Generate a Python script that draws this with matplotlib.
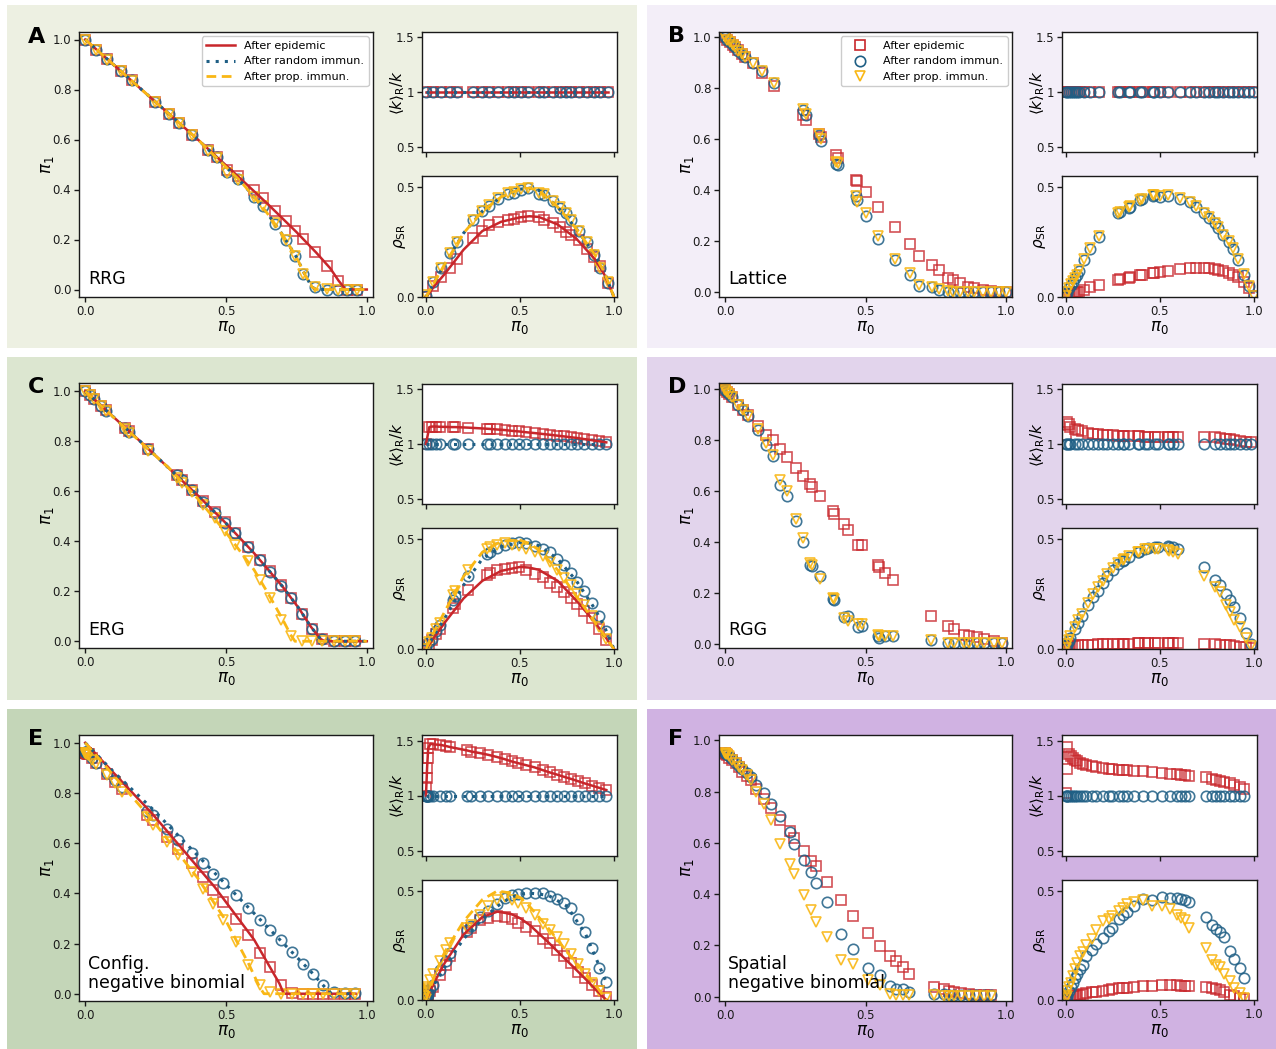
import matplotlib
matplotlib.use('Agg')
import matplotlib.pyplot as plt
from matplotlib.lines import Line2D
from matplotlib.patches import Rectangle

RED = '#c8262b'
BLUE = '#1f5f85'
YEL = '#f9b715'

# ---------------- A: RRG ----------------
a_x = [0.0, 0.039, 0.078, 0.126, 0.165, 0.248, 0.298, 0.333, 0.381, 0.437, 0.467, 0.505,
       0.541, 0.599, 0.63, 0.674, 0.713, 0.745, 0.774, 0.816, 0.857, 0.896, 0.928, 0.966]
a_epi = [1.0, 0.96, 0.921, 0.875, 0.837, 0.751, 0.704, 0.667, 0.619, 0.56, 0.531, 0.477,
         0.453, 0.397, 0.368, 0.315, 0.273, 0.235, 0.201, 0.151, 0.093, 0.033, 0.0, 0.0]
a_rand = [1.0, 0.96, 0.921, 0.875, 0.837, 0.751, 0.704, 0.667, 0.619, 0.558, 0.529, 0.47,
          0.441, 0.371, 0.335, 0.264, 0.197, 0.133, 0.061, 0.011, 0.0, 0.0, 0.0, 0.0]
a_prop = [1.0, 0.958, 0.92, 0.874, 0.836, 0.75, 0.703, 0.665, 0.617, 0.556, 0.528, 0.468,
          0.44, 0.372, 0.336, 0.266, 0.2, 0.135, 0.063, 0.012, 0.002, 0.0, 0.0, 0.0]
a_k_epi = [1.0, 1.0, 1.0, 1.0, 1.0, 1.0, 1.0, 1.0, 1.0, 1.0, 1.0, 1.0,
           1.0, 1.0, 1.0, 1.0, 1.0, 1.0, 1.0, 1.0, 1.0, 1.0, 1.0, 1.0]
a_k_rand = [1.0, 1.0, 1.0, 1.0, 1.0, 1.0, 1.0, 1.0, 1.0, 1.0, 1.0, 1.0,
            1.0, 1.0, 1.0, 1.0, 1.0, 1.0, 1.0, 1.0, 1.0, 1.0, 1.0, 1.0]
a_rho_epi = [0.0, 0.05, 0.092, 0.134, 0.172, 0.27, 0.3, 0.326, 0.342, 0.35, 0.356, 0.364,
             0.368, 0.365, 0.352, 0.336, 0.316, 0.296, 0.28, 0.258, 0.22, 0.18, 0.14, 0.065]
a_rho_rand = [0.005, 0.068, 0.13, 0.2, 0.25, 0.35, 0.39, 0.415, 0.447, 0.47, 0.475, 0.488,
              0.495, 0.47, 0.465, 0.435, 0.405, 0.38, 0.35, 0.3, 0.25, 0.19, 0.13, 0.065]
a_rho_prop = [0.008, 0.07, 0.133, 0.202, 0.252, 0.352, 0.392, 0.418, 0.45, 0.472, 0.478, 0.49,
              0.497, 0.472, 0.466, 0.437, 0.407, 0.382, 0.352, 0.302, 0.252, 0.192, 0.132, 0.066]
a_th_epi_x = [0.0, 0.4, 0.55, 0.65, 0.75, 0.82, 0.87, 0.9, 0.925, 1.0]
a_th_epi_y = [1.0, 0.6, 0.445, 0.34, 0.23, 0.148, 0.085, 0.035, 0.0, 0.0]
a_th_imm_x = [0.0, 0.4, 0.5, 0.55, 0.6, 0.65, 0.7, 0.75, 0.78, 0.805, 0.82, 1.0]
a_th_imm_y = [1.0, 0.6, 0.49, 0.435, 0.37, 0.3, 0.22, 0.13, 0.06, 0.01, 0.0, 0.0]

rho_x = [0.0, 0.05, 0.1, 0.2, 0.3, 0.4, 0.5, 0.55, 0.6, 0.7, 0.8, 0.9, 0.95, 1.0]
a_th_rho_epi = [0.0, 0.055, 0.105, 0.215, 0.3, 0.342, 0.362, 0.367, 0.364, 0.33, 0.265, 0.17, 0.1, 0.0]
a_th_rho_imm = [0.0, 0.075, 0.15, 0.29, 0.39, 0.455, 0.49, 0.495, 0.485, 0.41, 0.31, 0.19, 0.11, 0.0]

# ---------------- B: Lattice ----------------
b_x = [0.0, 0.008, 0.018, 0.027, 0.036, 0.047, 0.059, 0.071, 0.098, 0.13, 0.174, 0.278,
       0.288, 0.334, 0.343, 0.394, 0.402, 0.465, 0.47, 0.501, 0.544, 0.605, 0.659, 0.692,
       0.736, 0.763, 0.793, 0.811, 0.837, 0.867, 0.888, 0.917, 0.947, 0.974, 1.0]
b_epi = [1.0, 0.99, 0.98, 0.971, 0.961, 0.948, 0.935, 0.924, 0.898, 0.859, 0.809, 0.693,
         0.674, 0.619, 0.608, 0.54, 0.527, 0.439, 0.435, 0.393, 0.334, 0.258, 0.189, 0.141,
         0.106, 0.089, 0.057, 0.047, 0.037, 0.023, 0.018, 0.01, 0.005, 0.001, 0.0]
b_rand = [1.0, 0.99, 0.98, 0.97, 0.96, 0.947, 0.934, 0.922, 0.897, 0.866, 0.82, 0.713,
          0.693, 0.615, 0.595, 0.504, 0.5, 0.376, 0.36, 0.298, 0.21, 0.125, 0.069, 0.025,
          0.021, 0.01, 0.003, 0.0, 0.0, 0.0, 0.0, 0.0, 0.0, 0.0, 0.0]
b_prop = [1.0, 0.99, 0.98, 0.97, 0.96, 0.947, 0.934, 0.922, 0.9, 0.868, 0.822, 0.718,
          0.7, 0.62, 0.6, 0.51, 0.505, 0.378, 0.355, 0.31, 0.22, 0.13, 0.075, 0.03,
          0.02, 0.012, 0.004, 0.002, 0.0, 0.0, 0.0, 0.0, 0.0, 0.0, 0.0]
b_k_epi = [1.0, 1.0, 1.0, 1.0, 1.0, 1.0, 1.0, 1.0, 1.0, 1.0, 1.0, 1.0, 1.0, 1.0, 1.0, 1.0, 1.0, 1.0,
           1.0, 1.0, 1.0, 1.0, 1.0, 1.0, 1.0, 1.0, 1.0, 1.0, 1.0, 1.0, 1.0, 1.0, 1.0, 1.0, 1.0]
b_k_rand = [1.0, 1.0, 1.0, 1.0, 1.0, 1.0, 1.0, 1.0, 1.0, 1.0, 1.0, 1.0, 1.0, 1.0, 1.0, 1.0, 1.0, 1.0,
            1.0, 1.0, 1.0, 1.0, 1.0, 1.0, 1.0, 1.0, 1.0, 1.0, 1.0, 1.0, 1.0, 1.0, 1.0, 1.0, 1.0]
b_rho_epi = [0.0, 0.005, 0.008, 0.012, 0.015, 0.018, 0.022, 0.025, 0.032, 0.045, 0.053, 0.078,
             0.08, 0.088, 0.09, 0.098, 0.1, 0.108, 0.11, 0.115, 0.12, 0.128, 0.132, 0.133,
             0.133, 0.132, 0.128, 0.125, 0.118, 0.108, 0.1, 0.092, 0.07, 0.04, 0.005]
b_rho_rand = [0.003, 0.02, 0.04, 0.055, 0.07, 0.085, 0.1, 0.12, 0.17, 0.22, 0.275, 0.38,
              0.385, 0.405, 0.41, 0.44, 0.445, 0.46, 0.462, 0.455, 0.46, 0.447, 0.43, 0.41,
              0.38, 0.36, 0.335, 0.315, 0.28, 0.25, 0.22, 0.17, 0.1, 0.05, 0.003]
b_rho_prop = [0.004, 0.022, 0.042, 0.057, 0.072, 0.087, 0.102, 0.122, 0.172, 0.222, 0.278, 0.383,
              0.388, 0.408, 0.413, 0.443, 0.447, 0.462, 0.464, 0.457, 0.462, 0.449, 0.432, 0.412,
              0.383, 0.362, 0.338, 0.318, 0.283, 0.253, 0.223, 0.173, 0.103, 0.052, 0.004]

# ---------------- C: ERG ----------------
c_x = [0.0, 0.018, 0.03, 0.055, 0.074, 0.142, 0.156, 0.224, 0.325, 0.342, 0.378, 0.419, 0.46,
       0.496, 0.531, 0.579, 0.62, 0.658, 0.697, 0.732, 0.77, 0.805, 0.842, 0.883, 0.921, 0.959]
c_epi = [1.0, 0.987, 0.971, 0.943, 0.924, 0.853, 0.84, 0.769, 0.667, 0.647, 0.607, 0.56, 0.516,
         0.476, 0.433, 0.377, 0.327, 0.28, 0.224, 0.173, 0.111, 0.049, 0.009, 0.003, 0.003, 0.003]
c_rand = [1.0, 0.986, 0.97, 0.942, 0.923, 0.852, 0.839, 0.768, 0.666, 0.646, 0.606, 0.559, 0.515,
          0.475, 0.432, 0.376, 0.326, 0.279, 0.223, 0.172, 0.11, 0.048, 0.008, 0.002, 0.002, 0.002]
c_prop = [1.0, 0.986, 0.97, 0.941, 0.921, 0.849, 0.835, 0.762, 0.655, 0.634, 0.596, 0.547, 0.493,
          0.44, 0.387, 0.32, 0.247, 0.173, 0.087, 0.023, 0.003, 0.003, 0.003, 0.003, 0.003, 0.003]
c_k_epi = [1.0, 1.155, 1.16, 1.16, 1.158, 1.155, 1.155, 1.15, 1.14, 1.138, 1.133, 1.128, 1.12,
           1.115, 1.108, 1.1, 1.092, 1.085, 1.077, 1.07, 1.062, 1.055, 1.045, 1.035, 1.025, 1.015]
c_k_rand = [1.0, 1.0, 1.0, 1.0, 1.0, 1.0, 1.0, 1.0, 1.0, 1.0, 1.0, 1.0, 1.0,
            1.0, 1.0, 1.0, 1.0, 1.0, 1.0, 1.0, 1.0, 1.0, 1.0, 1.0, 1.0, 1.0]
c_rho_epi = [0.0, 0.02, 0.04, 0.07, 0.09, 0.185, 0.205, 0.27, 0.338, 0.345, 0.36, 0.365, 0.37,
             0.372, 0.358, 0.342, 0.326, 0.302, 0.28, 0.258, 0.23, 0.205, 0.175, 0.14, 0.092, 0.04]
c_rho_rand = [0.0, 0.03, 0.045, 0.08, 0.11, 0.225, 0.24, 0.33, 0.43, 0.44, 0.46, 0.472, 0.48,
              0.485, 0.48, 0.47, 0.455, 0.44, 0.41, 0.38, 0.345, 0.305, 0.265, 0.21, 0.15, 0.08]
c_rho_prop = [0.0, 0.03, 0.05, 0.09, 0.12, 0.245, 0.265, 0.36, 0.455, 0.465, 0.475, 0.48, 0.475,
              0.468, 0.455, 0.44, 0.425, 0.395, 0.36, 0.325, 0.29, 0.25, 0.2, 0.15, 0.1, 0.045]
c_th_epi_x = [0.0, 0.2, 0.4, 0.5, 0.6, 0.7, 0.76, 0.8, 0.835, 0.85, 1.0]
c_th_epi_y = [1.0, 0.795, 0.583, 0.472, 0.352, 0.22, 0.13, 0.06, 0.01, 0.0, 0.0]
c_th_prop_x = [0.0, 0.3, 0.4, 0.5, 0.6, 0.65, 0.7, 0.73, 0.745, 1.0]
c_th_prop_y = [1.0, 0.69, 0.57, 0.435, 0.285, 0.19, 0.09, 0.025, 0.0, 0.0]
c_th_rho_epi = [0.0, 0.06, 0.12, 0.23, 0.31, 0.355, 0.373, 0.37, 0.36, 0.31, 0.22, 0.12, 0.06, 0.0]
c_th_rho_rand = [0.0, 0.07, 0.14, 0.29, 0.41, 0.465, 0.485, 0.482, 0.47, 0.41, 0.31, 0.18, 0.1, 0.0]
c_th_rho_prop = [0.0, 0.09, 0.17, 0.33, 0.44, 0.49, 0.495, 0.48, 0.45, 0.36, 0.24, 0.12, 0.06, 0.0]

# ---------------- D: RGG ----------------
d_x = [0.0, 0.006, 0.015, 0.024, 0.047, 0.065, 0.083, 0.118, 0.146, 0.169, 0.195, 0.219,
       0.252, 0.278, 0.304, 0.308, 0.337, 0.385, 0.387, 0.422, 0.438, 0.473, 0.489, 0.544,
       0.548, 0.568, 0.598, 0.734, 0.793, 0.817, 0.852, 0.87, 0.896, 0.923, 0.959, 0.986]
d_epi = [0.993, 0.987, 0.979, 0.969, 0.937, 0.918, 0.898, 0.855, 0.82, 0.797, 0.763, 0.732,
         0.689, 0.656, 0.627, 0.614, 0.58, 0.519, 0.51, 0.471, 0.447, 0.388, 0.386, 0.31,
         0.301, 0.277, 0.248, 0.11, 0.071, 0.058, 0.035, 0.031, 0.026, 0.018, 0.009, 0.003]
d_rand = [0.993, 0.987, 0.979, 0.969, 0.937, 0.918, 0.891, 0.836, 0.78, 0.734, 0.624, 0.578,
          0.48, 0.399, 0.31, 0.304, 0.264, 0.175, 0.172, 0.105, 0.107, 0.065, 0.07, 0.031,
          0.022, 0.029, 0.029, 0.013, 0.003, 0.003, 0.002, 0.002, 0.002, 0.002, 0.002, 0.002]
d_prop = [0.993, 0.986, 0.978, 0.968, 0.936, 0.916, 0.893, 0.84, 0.785, 0.74, 0.64, 0.597,
          0.49, 0.414, 0.316, 0.31, 0.255, 0.178, 0.175, 0.1, 0.09, 0.078, 0.078, 0.035,
          0.03, 0.03, 0.032, 0.015, 0.004, 0.003, 0.002, 0.002, 0.002, 0.002, 0.002, 0.002]
d_k_epi = [1.08, 1.2, 1.18, 1.16, 1.14, 1.125, 1.12, 1.1, 1.095, 1.09, 1.085, 1.08,
           1.08, 1.075, 1.075, 1.075, 1.072, 1.07, 1.07, 1.068, 1.066, 1.065, 1.065, 1.065,
           1.065, 1.065, 1.062, 1.065, 1.06, 1.055, 1.05, 1.045, 1.04, 1.03, 1.02, 1.015]
d_k_rand = [1.0, 1.0, 1.0, 1.0, 1.0, 1.0, 1.0, 1.0, 1.0, 1.0, 1.0, 1.0,
            1.0, 1.0, 1.0, 1.0, 1.0, 1.0, 1.0, 1.0, 1.0, 1.0, 1.0, 1.0,
            1.0, 1.0, 1.0, 1.0, 1.0, 1.0, 1.0, 1.0, 1.0, 1.0, 1.0, 1.0]
d_rho_epi = [0.0, 0.005, 0.01, 0.012, 0.015, 0.017, 0.018, 0.02, 0.02, 0.021, 0.022, 0.023,
             0.024, 0.024, 0.025, 0.025, 0.025, 0.026, 0.026, 0.026, 0.026, 0.027, 0.027, 0.027,
             0.027, 0.027, 0.027, 0.024, 0.022, 0.02, 0.018, 0.016, 0.013, 0.01, 0.007, 0.003]
d_rho_rand = [0.005, 0.02, 0.035, 0.05, 0.09, 0.12, 0.15, 0.2, 0.235, 0.265, 0.3, 0.33,
              0.36, 0.385, 0.4, 0.405, 0.42, 0.44, 0.44, 0.455, 0.46, 0.463, 0.465, 0.467,
              0.465, 0.462, 0.455, 0.371, 0.315, 0.29, 0.25, 0.225, 0.19, 0.14, 0.075, 0.025]
d_rho_prop = [0.005, 0.025, 0.04, 0.06, 0.1, 0.13, 0.16, 0.21, 0.25, 0.28, 0.31, 0.34,
              0.37, 0.39, 0.405, 0.41, 0.425, 0.44, 0.44, 0.455, 0.455, 0.455, 0.455, 0.45,
              0.445, 0.44, 0.43, 0.33, 0.28, 0.26, 0.2, 0.17, 0.13, 0.1, 0.05, 0.015]

# ---------------- E: Config. negative binomial ----------------
e_x = [0.0, 0.002, 0.004, 0.006, 0.009, 0.012, 0.024, 0.039, 0.077, 0.106, 0.13, 0.218, 0.24,
       0.289, 0.331, 0.378, 0.419, 0.455, 0.488, 0.534, 0.579, 0.622, 0.658, 0.697, 0.734,
       0.773, 0.809, 0.844, 0.883, 0.921, 0.959]
e_epi = [0.96, 0.96, 0.958, 0.957, 0.956, 0.955, 0.938, 0.918, 0.875, 0.844, 0.814, 0.711, 0.691,
         0.625, 0.578, 0.519, 0.465, 0.415, 0.366, 0.299, 0.233, 0.162, 0.106, 0.033, 0.004,
         0.0, 0.0, 0.0, 0.0, 0.0, 0.0]
e_rand = [0.964, 0.963, 0.962, 0.961, 0.96, 0.96, 0.941, 0.92, 0.88, 0.851, 0.822, 0.729, 0.712,
          0.655, 0.612, 0.561, 0.519, 0.479, 0.441, 0.392, 0.34, 0.293, 0.253, 0.213, 0.166,
          0.12, 0.078, 0.033, 0.007, 0.003, 0.003]
e_prop = [0.96, 0.958, 0.956, 0.955, 0.953, 0.951, 0.933, 0.915, 0.871, 0.838, 0.805, 0.705, 0.672,
          0.605, 0.552, 0.485, 0.418, 0.359, 0.295, 0.206, 0.113, 0.033, 0.007, 0.0, 0.0,
          0.0, 0.0, 0.0, 0.0, 0.0, 0.0]
e_k_epi = [1.0, 1.08, 1.16, 1.25, 1.34, 1.43, 1.47, 1.465, 1.46, 1.45, 1.44, 1.41, 1.4,
           1.385, 1.37, 1.35, 1.33, 1.31, 1.295, 1.275, 1.255, 1.23, 1.21, 1.19, 1.17,
           1.15, 1.13, 1.11, 1.09, 1.07, 1.05]
e_k_rand = [1.0, 1.0, 1.0, 1.0, 1.0, 1.0, 1.0, 1.0, 1.0, 1.0, 1.0, 1.0, 1.0,
            1.0, 1.0, 1.0, 1.0, 1.0, 1.0, 1.0, 1.0, 1.0, 1.0, 1.0, 1.0,
            1.0, 1.0, 1.0, 1.0, 1.0, 1.0]
e_rho_epi = [0.0, 0.005, 0.01, 0.015, 0.02, 0.022, 0.04, 0.06, 0.115, 0.16, 0.2, 0.31, 0.33,
             0.365, 0.378, 0.385, 0.38, 0.37, 0.355, 0.335, 0.315, 0.28, 0.26, 0.23, 0.2,
             0.17, 0.13, 0.1, 0.07, 0.04, 0.015]
e_rho_rand = [0.005, 0.01, 0.015, 0.02, 0.025, 0.03, 0.05, 0.07, 0.138, 0.18, 0.215, 0.32, 0.338,
              0.382, 0.41, 0.44, 0.468, 0.482, 0.488, 0.49, 0.492, 0.489, 0.478, 0.462, 0.445,
              0.42, 0.372, 0.31, 0.24, 0.145, 0.084]
e_rho_prop = [0.005, 0.02, 0.03, 0.04, 0.05, 0.06, 0.09, 0.12, 0.18, 0.23, 0.26, 0.33, 0.345,
              0.39, 0.43, 0.46, 0.47, 0.46, 0.445, 0.42, 0.39, 0.35, 0.32, 0.29, 0.255,
              0.21, 0.165, 0.12, 0.08, 0.04, 0.01]
e_th_epi_x = [0.0, 0.24, 0.46, 0.6, 0.69, 0.705, 0.96]
e_th_epi_y = [1.0, 0.715, 0.425, 0.215, 0.04, 0.0, 0.0]
e_th_rand_x = [0.0, 0.1, 0.24, 0.4, 0.6, 0.8, 0.86, 0.875, 0.96]
e_th_rand_y = [1.0, 0.885, 0.735, 0.55, 0.32, 0.09, 0.015, 0.0, 0.0]
e_th_prop_x = [0.0, 0.24, 0.4, 0.5, 0.58, 0.62, 0.635, 0.96]
e_th_prop_y = [1.0, 0.69, 0.46, 0.29, 0.12, 0.025, 0.0, 0.0]
e_rho_xs = [0.0, 0.05, 0.1, 0.2, 0.3, 0.38, 0.45, 0.5, 0.55, 0.65, 0.75, 0.85, 0.9, 0.96]
e_th_rho_epi = [0.0, 0.09, 0.17, 0.3, 0.38, 0.405, 0.395, 0.375, 0.345, 0.265, 0.18, 0.095, 0.05, 0.0]
e_th_rho_rand = [0.0, 0.08, 0.15, 0.28, 0.37, 0.43, 0.47, 0.485, 0.49, 0.48, 0.43, 0.3, 0.2, 0.08]
e_th_rho_prop = [0.0, 0.12, 0.22, 0.36, 0.46, 0.5, 0.49, 0.47, 0.43, 0.33, 0.22, 0.12, 0.07, 0.0]

# ---------------- F: Spatial negative binomial ----------------
f_x = [0.0, 0.003, 0.006, 0.014, 0.026, 0.038, 0.05, 0.061, 0.077, 0.091, 0.109, 0.138, 0.162,
       0.197, 0.23, 0.247, 0.282, 0.306, 0.325, 0.362, 0.412, 0.457, 0.51, 0.551, 0.589, 0.61,
       0.632, 0.655, 0.743, 0.778, 0.799, 0.817, 0.841, 0.87, 0.894, 0.923, 0.947]
f_epi = [0.949, 0.946, 0.943, 0.933, 0.923, 0.91, 0.897, 0.877, 0.86, 0.845, 0.812, 0.773, 0.738,
         0.688, 0.646, 0.62, 0.568, 0.531, 0.509, 0.449, 0.377, 0.316, 0.247, 0.196, 0.158, 0.14,
         0.117, 0.09, 0.038, 0.029, 0.022, 0.018, 0.013, 0.009, 0.007, 0.007, 0.005]
f_rand = [0.952, 0.948, 0.945, 0.939, 0.926, 0.913, 0.9, 0.887, 0.871, 0.856, 0.825, 0.793, 0.753,
          0.704, 0.642, 0.597, 0.535, 0.486, 0.443, 0.368, 0.244, 0.185, 0.111, 0.084, 0.042, 0.031,
          0.029, 0.02, 0.009, 0.009, 0.007, 0.007, 0.005, 0.005, 0.005, 0.005, 0.005]
f_prop = [0.952, 0.948, 0.945, 0.938, 0.925, 0.911, 0.897, 0.883, 0.865, 0.845, 0.8, 0.753, 0.69,
          0.594, 0.518, 0.477, 0.398, 0.338, 0.292, 0.231, 0.142, 0.127, 0.064, 0.046, 0.012, 0.008,
          0.006, 0.005, 0.005, 0.003, 0.003, 0.003, 0.003, 0.003, 0.003, 0.003, 0.003]
f_k_epi = [1.02, 1.24, 1.44, 1.38, 1.36, 1.34, 1.32, 1.31, 1.3, 1.29, 1.28, 1.265, 1.255,
           1.25, 1.245, 1.24, 1.235, 1.232, 1.23, 1.225, 1.22, 1.215, 1.205, 1.2, 1.195, 1.19,
           1.185, 1.18, 1.165, 1.15, 1.14, 1.13, 1.12, 1.11, 1.1, 1.08, 1.06]
f_k_rand = [1.0, 1.0, 1.0, 1.0, 1.0, 1.0, 1.0, 1.0, 1.0, 1.0, 1.0, 1.0, 1.0,
            1.0, 1.0, 1.0, 1.0, 1.0, 1.0, 1.0, 1.0, 1.0, 1.0, 1.0, 1.0, 1.0,
            1.0, 1.0, 1.0, 1.0, 1.0, 1.0, 1.0, 1.0, 1.0, 1.0, 1.0]
f_rho_epi = [0.0, 0.005, 0.008, 0.012, 0.015, 0.017, 0.02, 0.022, 0.025, 0.027, 0.03, 0.035, 0.038,
             0.043, 0.047, 0.05, 0.053, 0.055, 0.057, 0.06, 0.062, 0.065, 0.067, 0.068, 0.067, 0.066,
             0.066, 0.065, 0.06, 0.055, 0.05, 0.045, 0.035, 0.025, 0.018, 0.01, 0.005]
f_rho_rand = [0.005, 0.015, 0.025, 0.04, 0.06, 0.08, 0.1, 0.12, 0.14, 0.16, 0.2, 0.23, 0.255,
              0.285, 0.315, 0.33, 0.37, 0.39, 0.405, 0.43, 0.465, 0.46, 0.472, 0.468, 0.466, 0.464,
              0.46, 0.448, 0.379, 0.344, 0.325, 0.31, 0.29, 0.226, 0.19, 0.145, 0.099]
f_rho_prop = [0.01, 0.02, 0.04, 0.06, 0.08, 0.11, 0.14, 0.17, 0.2, 0.22, 0.25, 0.28, 0.32,
              0.36, 0.37, 0.385, 0.41, 0.42, 0.44, 0.45, 0.46, 0.43, 0.43, 0.415, 0.39, 0.375,
              0.365, 0.33, 0.24, 0.185, 0.16, 0.15, 0.12, 0.085, 0.055, 0.03, 0.008]

W, H = 1276, 1049
fig = plt.figure(figsize=(W / 100, H / 100), dpi=100)

bg_colors = [['#edf0e2', '#f3eef8'], ['#dce6d0', '#e2d4ec'], ['#c4d6b8', '#d0b2e2']]
row_y = [(5, 348), (357, 700), (709, 1049)]
col_x = [(7, 637), (647, 1276)]
for r in range(3):
    for c in range(2):
        x0, x1 = col_x[c]
        y0, y1 = row_y[r]
        fig.add_artist(Rectangle((x0 / W, 1 - y1 / H), (x1 - x0) / W, (y1 - y0) / H,
                                 transform=fig.transFigure, facecolor=bg_colors[r][c],
                                 edgecolor='none', zorder=-5))

main_y = [(32, 297), (383, 648), (735, 1001)]
top_y = [(32, 152), (384, 504), (735, 856)]
bot_y = [(176, 297), (528, 649), (880, 1000)]
main_x = [(79, 373), (719, 1012)]
small_x = [(422, 617), (1062, 1257)]
letter_xy = [[(28, 43), (668, 42)], [(28, 393), (668, 393)], [(28, 745), (668, 745)]]


def px_axes(xs, ys):
    return fig.add_axes([xs[0] / W, 1 - ys[1] / H, (xs[1] - xs[0]) / W, (ys[1] - ys[0]) / H])


def style(ax):
    for s in ax.spines.values():
        s.set_linewidth(1.0)
        s.set_color('#1a1a1a')
    ax.tick_params(labelsize=8.5, length=3.5, width=1.0, pad=2, colors='#1a1a1a')


def markers(ax, x, e, r, p=None):
    ax.plot(x, e, ls='none', marker='s', mfc='none', mec=RED, ms=7.8, mew=1.2, alpha=0.8, zorder=2)
    ax.plot(x, r, ls='none', marker='o', mfc='none', mec=BLUE, ms=7.5, mew=1.2, alpha=0.85, zorder=2)
    if p is not None:
        ax.plot(x, p, ls='none', marker='v', mfc='none', mec=YEL, ms=7, mew=1.2, alpha=0.9, zorder=2)


LINE_STYLE = {'epi': dict(color=RED, ls='-', lw=1.8),
              'rand': dict(color=BLUE, ls=(0, (1, 2)), lw=2.2),
              'prop': dict(color=YEL, ls=(0, (3.5, 2)), lw=2.0)}


def panel(r, c, letter, name, x, epi, rand, prop, k_epi, k_rand, rho_epi, rho_rand, rho_prop,
          ylim, th=None, th_rho=None, klines=False, legend=None):
    ax = px_axes(main_x[c], main_y[r])
    style(ax)
    markers(ax, x, epi, rand, prop)
    if th:
        for key, xs, ys in th:
            ax.plot(xs, ys, zorder=3, **LINE_STYLE[key])
    ax.set_xlim(-0.022, 1.022)
    ax.set_ylim(*ylim)
    ax.set_xticks([0, 0.5, 1.0])
    ax.set_xticklabels(['0.0', '0.5', '1.0'])
    ax.set_yticks([0, 0.2, 0.4, 0.6, 0.8, 1.0])
    ax.set_yticklabels(['0.0', '0.2', '0.4', '0.6', '0.8', '1.0'])
    ax.set_xlabel(r'$\pi_0$', fontsize=12, labelpad=0)
    ax.set_ylabel(r'$\pi_1$', fontsize=12)
    ax.yaxis.set_label_coords(-0.077, 0.5)
    ax.text(0.03, 0.035, name, transform=ax.transAxes, fontsize=12.5, va='bottom',
            linespacing=1.05)
    lx, ly = letter_xy[r][c]
    fig.text(lx / W, 1 - ly / H, letter, fontsize=16, fontweight='bold', va='baseline')
    if legend == 'lines':
        h = [Line2D([], [], **LINE_STYLE['epi']), Line2D([], [], **LINE_STYLE['rand']),
             Line2D([], [], **LINE_STYLE['prop'])]
        ax.legend(h, ['After epidemic', 'After random immun.', 'After prop. immun.'],
                  loc='upper right', fontsize=8, handlelength=2.6, borderaxespad=0.4,
                  framealpha=1, edgecolor='#cccccc')
    elif legend == 'markers':
        h = [Line2D([], [], ls='none', marker='s', mfc='none', mec=RED, ms=7.5, mew=1.2),
             Line2D([], [], ls='none', marker='o', mfc='none', mec=BLUE, ms=7.5, mew=1.2),
             Line2D([], [], ls='none', marker='v', mfc='none', mec=YEL, ms=7, mew=1.2)]
        ax.legend(h, ['After epidemic', 'After random immun.', 'After prop. immun.'],
                  loc='upper right', fontsize=8, handlelength=2.6, borderaxespad=0.4,
                  framealpha=1, edgecolor='#cccccc')

    # <k>_R / k
    axk = px_axes(small_x[c], top_y[r])
    style(axk)
    markers(axk, x, k_epi, k_rand)
    if klines:
        axk.plot(x, k_epi, zorder=3, **LINE_STYLE['epi'])
        axk.plot(x, k_rand, zorder=3, **LINE_STYLE['rand'])
    axk.set_xlim(-0.021, 1.016)
    axk.set_ylim(0.45, 1.55)
    axk.set_xticks([0, 0.5, 1.0])
    axk.set_xticklabels([])
    axk.set_yticks([0.5, 1.0, 1.5])
    axk.set_yticklabels(['0.5', '1', '1.5'])
    axk.set_ylabel(r'$\langle k\rangle_{\mathrm{R}}/k$', fontsize=11)
    axk.yaxis.set_label_coords(-0.075, 0.5)

    # rho_SR
    axr = px_axes(small_x[c], bot_y[r])
    style(axr)
    markers(axr, x, rho_epi, rho_rand, rho_prop)
    if th_rho:
        for key, xs, ys in th_rho:
            axr.plot(xs, ys, zorder=3, **LINE_STYLE[key])
    axr.set_xlim(-0.021, 1.016)
    axr.set_ylim(0, 0.55)
    axr.set_xticks([0, 0.5, 1.0])
    axr.set_xticklabels(['0.0', '0.5', '1.0'])
    axr.set_yticks([0, 0.5])
    axr.set_yticklabels(['0.0', '0.5'])
    axr.set_xlabel(r'$\pi_0$', fontsize=12, labelpad=0)
    axr.set_ylabel(r'$\rho_{\mathrm{SR}}$', fontsize=11)
    axr.yaxis.set_label_coords(-0.07, 0.5)


panel(0, 0, 'A', 'RRG', a_x, a_epi, a_rand, a_prop, a_k_epi, a_k_rand,
      a_rho_epi, a_rho_rand, a_rho_prop, (-0.03, 1.03),
      th=[('epi', a_th_epi_x, a_th_epi_y), ('rand', a_th_imm_x, a_th_imm_y),
          ('prop', a_th_imm_x, a_th_imm_y)],
      th_rho=[('epi', rho_x, a_th_rho_epi), ('rand', rho_x, a_th_rho_imm),
              ('prop', rho_x, a_th_rho_imm)],
      klines=True, legend='lines')
panel(0, 1, 'B', 'Lattice', b_x, b_epi, b_rand, b_prop, b_k_epi, b_k_rand,
      b_rho_epi, b_rho_rand, b_rho_prop, (-0.018, 1.02), legend='markers')
panel(1, 0, 'C', 'ERG', c_x, c_epi, c_rand, c_prop, c_k_epi, c_k_rand,
      c_rho_epi, c_rho_rand, c_rho_prop, (-0.027, 1.033),
      th=[('epi', c_th_epi_x, c_th_epi_y), ('rand', c_th_epi_x, c_th_epi_y),
          ('prop', c_th_prop_x, c_th_prop_y)],
      th_rho=[('epi', rho_x, c_th_rho_epi), ('rand', rho_x, c_th_rho_rand),
              ('prop', rho_x, c_th_rho_prop)],
      klines=True)
panel(1, 1, 'D', 'RGG', d_x, d_epi, d_rand, d_prop, d_k_epi, d_k_rand,
      d_rho_epi, d_rho_rand, d_rho_prop, (-0.017, 1.022))
panel(2, 0, 'E', 'Config.\nnegative binomial', e_x, e_epi, e_rand, e_prop, e_k_epi, e_k_rand,
      e_rho_epi, e_rho_rand, e_rho_prop, (-0.029, 1.031),
      th=[('epi', e_th_epi_x, e_th_epi_y), ('rand', e_th_rand_x, e_th_rand_y),
          ('prop', e_th_prop_x, e_th_prop_y)],
      th_rho=[('epi', e_rho_xs, e_th_rho_epi), ('rand', e_rho_xs, e_th_rho_rand),
              ('prop', e_rho_xs, e_th_rho_prop)],
      klines=True)
panel(2, 1, 'F', 'Spatial\nnegative binomial', f_x, f_epi, f_rand, f_prop, f_k_epi, f_k_rand,
      f_rho_epi, f_rho_rand, f_rho_prop, (-0.017, 1.021))

fig.savefig('out.png', dpi=100)
